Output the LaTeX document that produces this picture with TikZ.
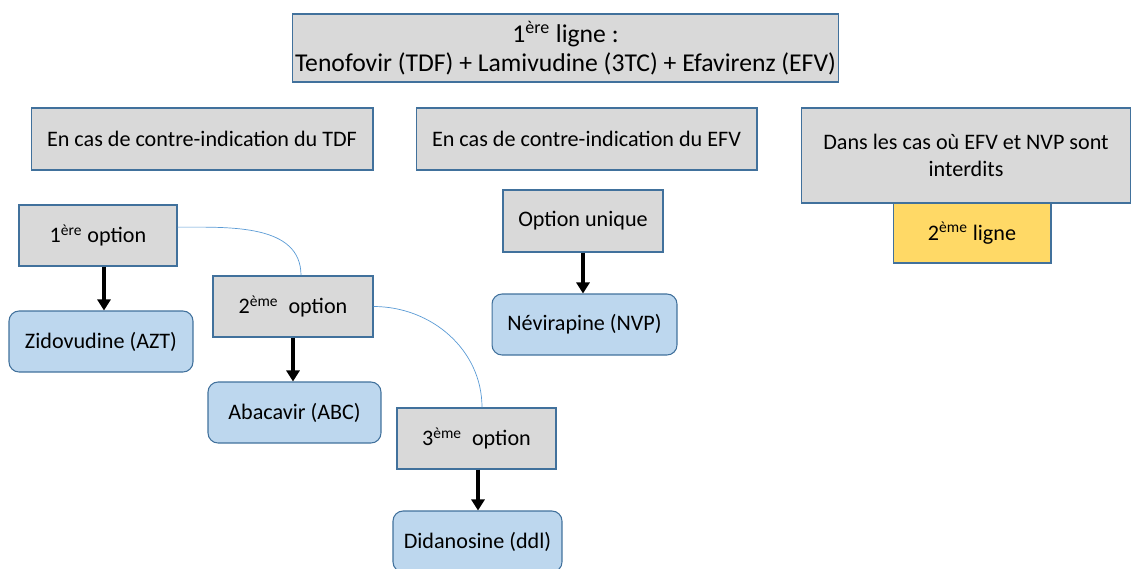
\documentclass[tikz,border=0pt]{standalone}
\usepackage{fontspec}
\setmainfont{Carlito}
\usepackage{tikz}
\usetikzlibrary{arrows.meta}
\definecolor{boxgray}{HTML}{D9D9D9}
\definecolor{boxedge}{HTML}{41719C}
\definecolor{drugblue}{HTML}{BDD7EE}
\definecolor{lineyellow}{HTML}{FFD966}
\definecolor{linkblue}{HTML}{5B9BD5}
\def\sup#1{\textsuperscript{#1}}
\tikzset{
  every node/.style={font=\fontsize{12.6}{15.4}\selectfont, inner sep=0pt, align=center},
  greybox/.style={draw=boxedge, line width=0.6pt, fill=boxgray},
  drugbox/.style={draw=boxedge, line width=0.6pt, fill=drugblue, rounded corners=0.2cm},
  yellowbox/.style={draw=boxedge, line width=0.6pt, fill=lineyellow},
  down/.style={line width=2.2pt, -{Triangle[width=0.26cm,length=0.22cm]}},
  link/.style={linkblue, line width=0.4pt},
}

\begin{document}
\begin{tikzpicture}[x=0.02cm, y=-0.02cm]
  \useasboundingbox (0,0) rectangle (1131,568);

  \node[greybox, minimum width=10.94cm, minimum height=1.36cm,
        font=\fontsize{14.6}{16.4}\selectfont] (first) at (565.5,48)
    {1\sup{ère} ligne :\\Tenofovir (TDF) + Lamivudine (3TC) + Efavirenz (EFV)};

  \node[greybox, minimum width=6.84cm, minimum height=1.24cm] (tdf) at (202,139)
    {En cas de contre-indication du TDF};
  \node[greybox, minimum width=6.82cm, minimum height=1.24cm] (efv) at (586.5,139)
    {En cas de contre-indication du EFV};
  \node[greybox, minimum width=6.60cm, minimum height=1.90cm] (both) at (966,155.5)
    {Dans les cas où EFV et NVP sont\\interdits};
  \node[yellowbox, minimum width=3.16cm, minimum height=1.20cm] (second) at (972,233)
    {2\sup{ème} ligne};

  \node[greybox, minimum width=3.16cm, minimum height=1.22cm] (opt1) at (98,235.5)
    {1\sup{ère} option};
  \node[drugbox, minimum width=3.68cm, minimum height=1.22cm] (azt) at (101,341.5)
    {Zidovudine (AZT)};
  \node[greybox, minimum width=3.20cm, minimum height=1.22cm] (opt2) at (293,306.5)
    {2\sup{ème}\ \ option};
  \node[drugbox, minimum width=3.46cm, minimum height=1.22cm] (abc) at (294.5,412.5)
    {Abacavir (ABC)};
  \node[greybox, minimum width=3.18cm, minimum height=1.22cm] (opt3) at (476.5,438.5)
    {3\sup{ème}\ \ option};
  \node[drugbox, minimum width=3.38cm, minimum height=1.22cm] (ddl) at (477.5,541.5)
    {Didanosine (ddl)};

  \node[greybox, minimum width=3.20cm, minimum height=1.24cm] (unique) at (583,221)
    {Option unique};
  \node[drugbox, minimum width=3.70cm, minimum height=1.22cm] (nvp) at (584.5,324.5)
    {Névirapine (NVP)};

  % arrows down to the drugs
  \draw[down] ([xshift=0.12cm]opt1.south) -- ([xshift=0.12cm]opt1.south |- azt.north);
  \draw[down] (opt2.south) -- (opt2.south |- abc.north);
  \draw[down] ([xshift=0.03cm]opt3.south) -- ([xshift=0.03cm]opt3.south |- ddl.north);
  \draw[down] (unique.south) -- (unique.south |- nvp.north);

  % thin links between the options
  \draw[link] (opt1.6) to[out=0, in=90] ([xshift=0.16cm]opt2.north);
  \draw[link] (opt2.east) to[out=0, in=90] ([xshift=0.11cm]opt3.north);
\end{tikzpicture}
\end{document}
